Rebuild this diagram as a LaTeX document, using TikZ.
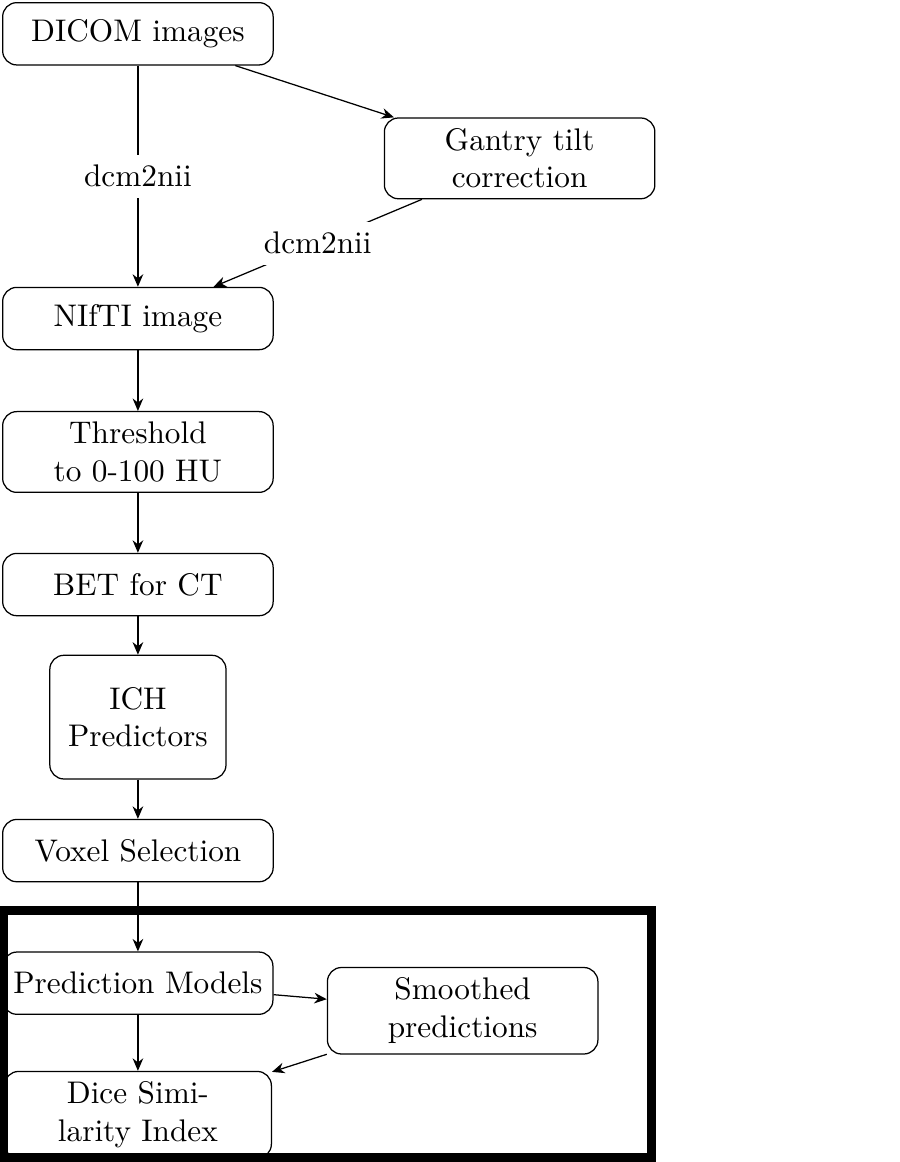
\documentclass[tikz,border=0pt]{standalone}
\usepackage{amsmath}
\usepackage{xcolor}
\usepackage{tikz}
\usetikzlibrary{positioning, arrows.meta}

\begin{document}
\begin{tikzpicture}[
          bx/.style={draw, rounded corners=4.5pt, minimum width=3.04cm, minimum height=0.7cm, align=center, font=\normalsize},
          edg/.style={-{Stealth[length=4pt, width=3.4pt, inset=1.3pt]}},
          lbl/.style={fill=white, font=\normalsize},
        ]
        \useasboundingbox (0,0) rectangle (10.11,-13.06);
        \node[bx] (dicom) at (1.55,-0.38) {DICOM images};
        \node[bx, minimum height=0.9cm] (gantry) at (5.84,-1.78) {Gantry tilt\\correction};
        \node[bx] (nifti) at (1.55,-3.58) {NIfTI image};
        \node[bx, minimum height=0.9cm] (thresh) at (1.55,-5.08) {Threshold\\to 0-100 HU};
        \node[bx] (bet) at (1.55,-6.57) {BET for CT};
        \node[bx, minimum width=1.98cm, minimum height=1.39cm] (ich) at (1.55,-8.06) {ICH\\Predictors};
        \node[bx] (voxel) at (1.55,-9.56) {Voxel Selection};
        \node[bx, minimum width=3.0cm] (predmod) at (1.55,-11.05) {Prediction Models};
        \node[bx, minimum height=0.97cm] (smooth) at (5.2,-11.36) {Smoothed\\predictions};
        \node[bx, minimum width=3.0cm, minimum height=0.94cm] (dice) at (1.55,-12.53) {Dice Simi-\\larity Index};
        \draw[edg] (dicom) -- node[lbl] {dcm2nii} (nifti);
        \draw[edg] (dicom) -- (gantry);
        \draw[edg] (gantry) -- node[lbl] {dcm2nii} (nifti);
        \draw[edg] (nifti) -- (thresh);
        \draw[edg] (thresh) -- (bet);
        \draw[edg] (bet) -- (ich);
        \draw[edg] (ich) -- (voxel);
        \draw[edg] (voxel) -- (predmod);
        \draw[edg] (predmod) -- (smooth);
        \draw[edg] (predmod) -- (dice);
        \draw[edg] (smooth) -- (dice);
        % evaluation stage framed by a heavy border
        \draw[line width=2.9pt] (0.034,-10.236) rectangle (7.326,-13.006);
        \end{tikzpicture}
\end{document}
